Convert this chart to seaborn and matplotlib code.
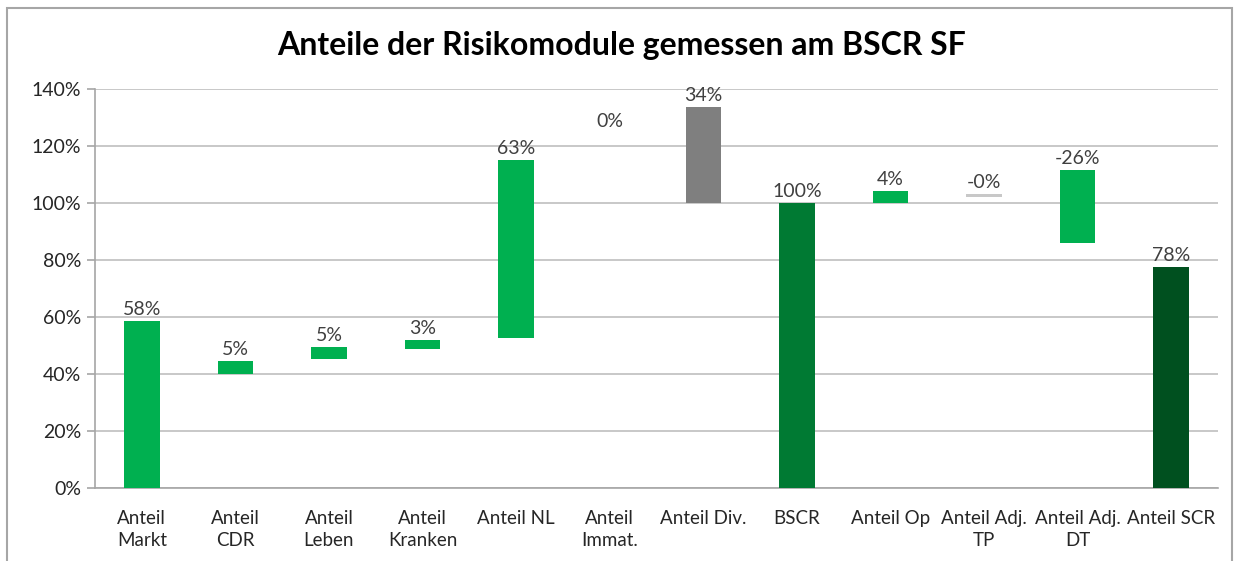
import numpy as np
import pandas as pd
import matplotlib
matplotlib.use("Agg")
import matplotlib.pyplot as plt
import seaborn as sns
from matplotlib.patches import Rectangle
from matplotlib.ticker import PercentFormatter

# data (percent of BSCR)
categories = ["Anteil\nMarkt", "Anteil\nCDR", "Anteil\nLeben", "Anteil\nKranken",
              "Anteil NL", "Anteil\nImmat.", "Anteil Div.", "BSCR", "Anteil Op",
              "Anteil Adj.\nTP", "Anteil Adj.\nDT", "Anteil SCR"]
bar_base = [0, 40.0, 45.3, 48.8, 52.6, 124.6, 100.0, 0, 100.0, 102.2, 86.0, 0]
bar_height = [58.6, 4.6, 4.2, 3.2, 62.4, 0.0, 33.7, 100.0, 4.2, 0.9, 25.6, 77.6]
value_labels = ["58%", "5%", "5%", "3%", "63%", "0%", "34%", "100%", "4%", "-0%", "-26%", "78%"]
bar_colors = ["#00B050"] * 6 + ["#7F7F7F", "#007A33", "#00B050", "#C8C8C8", "#00B050", "#00501F"]

df = pd.DataFrame({"Modul": categories, "Hoehe": bar_height, "Basis": bar_base})

sns.set_style("white")
plt.rcParams["font.family"] = ["Lato", "DejaVu Sans"]

fig = plt.figure(figsize=(12.39, 5.61), dpi=100)
ax = fig.add_axes([95 / 1239, 1 - 488 / 561, (1218 - 95) / 1239, (488 - 89) / 561])

sns.barplot(data=df, x="Modul", y="Hoehe", bottom=df["Basis"].values,
            color="#00B050", width=0.38, errorbar=None, ax=ax, zorder=3,
            linewidth=0)

for patch, c in zip(ax.patches, bar_colors):
    patch.set_facecolor(c)

for i, (b, h, lab) in enumerate(zip(bar_base, bar_height, value_labels)):
    ax.annotate(lab, (i, b + h), xytext=(0, 2), textcoords="offset points",
                ha="center", va="bottom", fontsize=14, color="#404040", zorder=4)

ax.set_ylim(0, 140)
ax.set_xlim(-0.5, len(categories) - 0.5)
ax.set_yticks(np.arange(0, 141, 20))
ax.yaxis.set_major_formatter(PercentFormatter(decimals=0))
ax.grid(axis="y", color="#BFBFBF", linewidth=1.2, zorder=0)
ax.set_axisbelow(True)
ax.set_xlabel("")
ax.set_ylabel("")

for side in ["top", "right"]:
    ax.spines[side].set_visible(False)
ax.spines["left"].set_color("#A6A6A6")
ax.spines["bottom"].set_color("#A6A6A6")
ax.spines["left"].set_linewidth(1.2)
ax.spines["bottom"].set_linewidth(1.2)

# tick marks between categories like the original
ax.set_xticks(np.arange(len(categories)))
ax.set_xticklabels(categories, fontsize=13.5, color="#262626", linespacing=1.35)
ax.tick_params(axis="x", length=0, pad=16)
ax.set_xticks(np.arange(-0.5, len(categories), 1), minor=True)
ax.tick_params(axis="x", which="minor", length=6, color="#A6A6A6", width=1.2)
ax.tick_params(axis="y", labelsize=14, labelcolor="#262626", length=6,
               color="#A6A6A6", width=1.2, left=True, pad=4)

fig.text(622 / 1239, 1 - 45 / 561, "Anteile der Risikomodule gemessen am BSCR SF",
         ha="center", va="center", fontsize=23, fontweight="bold", color="#000000")

# outer chart frame
fig.patches.append(Rectangle((7 / 1239, -0.01), (1232 - 7) / 1239, 1 - 8 / 561 + 0.01,
                             transform=fig.transFigure, fill=False,
                             edgecolor="#A6A6A6", linewidth=1.5))

fig.savefig("out.png", dpi=100)
